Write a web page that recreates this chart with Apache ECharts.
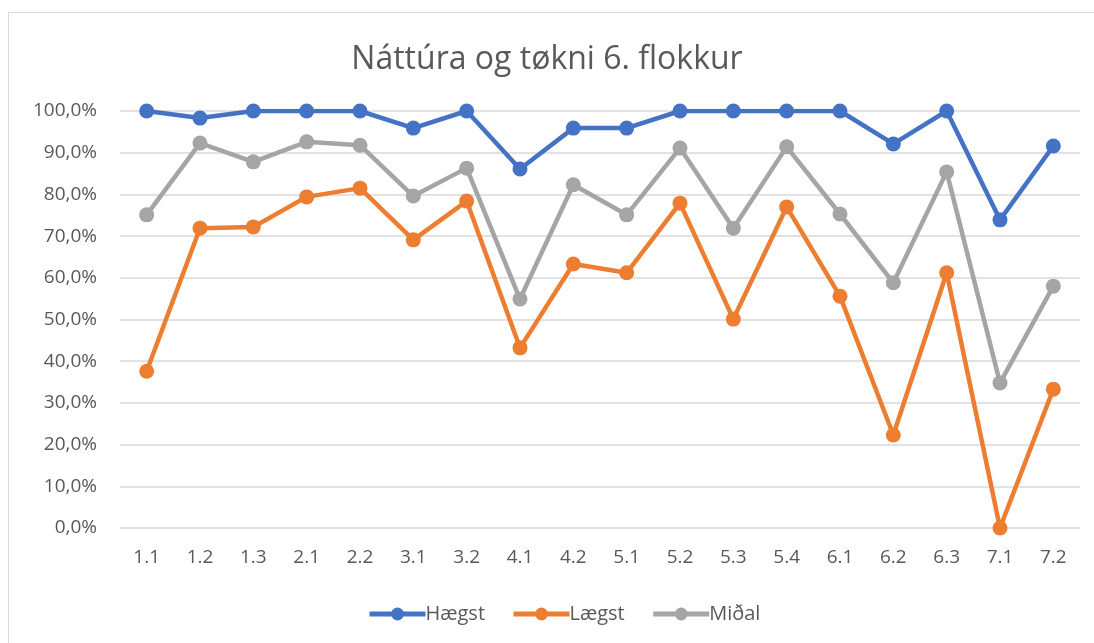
<!DOCTYPE html>
<html lang="fo">
<head>
<meta charset="UTF-8">
<title>Náttúra og tøkni 6. flokkur</title>
<style>
  html, body { margin: 0; padding: 0; width: 100%; height: 100%; background: #fff; }
  #frame { position: absolute; left: 8px; top: 12px; width: 1100px; height: 650px; border: 1px solid #d9d9d9; }
  #main { position: absolute; left: 0; top: 0; width: 1094px; height: 643px; }
</style>
</head>
<body>
<div id="frame"></div>
<div id="main"></div>
<script src="https://cdn.jsdelivr.net/npm/echarts@6/dist/echarts.min.js"></script>
<script>
  // flokkar (x-ásur)
  const categories = ['1.1', '1.2', '1.3', '2.1', '2.2', '3.1', '3.2', '4.1', '4.2', '5.1', '5.2', '5.3', '5.4', '6.1', '6.2', '6.3', '7.1', '7.2'];
  // virði í prosentum
  const haegst = [100, 98.3, 100, 100, 100, 95.9, 100, 86.1, 95.9, 95.9, 100, 100, 100, 100, 92.1, 100, 73.9, 91.6];
  const laegst = [37.6, 71.9, 72.2, 79.4, 81.5, 69.1, 78.4, 43.2, 63.3, 61.2, 77.9, 50.1, 77.0, 55.6, 22.3, 61.2, 0, 33.3];
  const midal = [75.1, 92.3, 87.8, 92.6, 91.8, 79.6, 86.3, 54.9, 82.3, 75.1, 91.1, 71.9, 91.4, 75.3, 58.8, 85.4, 34.8, 58.0];

  const font = '"Open Sans", "Noto Sans", sans-serif';
  const txt = '#595959';

  function mkSeries(name, data, color) {
    return {
      name: name,
      type: 'line',
      data: data,
      symbol: 'circle',
      symbolSize: 15,
      lineStyle: { width: 4.5, color: color },
      itemStyle: { color: color },
      emphasis: { disabled: true }
    };
  }

  var chart = echarts.init(document.getElementById('main'));
  chart.setOption({
    animation: false,
    color: ['#4472C4', '#ED7D31', '#A5A5A5'],
    title: {
      text: 'Náttúra og tøkni 6. flokkur',
      left: 'center',
      top: 39,
      textStyle: { fontFamily: font, fontSize: 32, fontWeight: 'normal', color: txt }
    },
    legend: {
      bottom: 14,
      left: 362,
      itemWidth: 56,
      itemHeight: 16,
      itemGap: 26,
      lineStyle: { width: 5 },
      textStyle: { fontFamily: font, fontSize: 20, color: txt, padding: [0, 0, 0, -5] },
      data: ['Hægst', 'Lægst', 'Miðal']
    },
    grid: { left: 120, right: 14, top: 111, bottom: 115, containLabel: false },
    xAxis: {
      type: 'category',
      data: categories,
      axisLine: { show: false },
      axisTick: { show: false },
      axisLabel: { fontFamily: font, fontSize: 19, color: txt, margin: 20 }
    },
    yAxis: {
      type: 'value',
      min: 0,
      max: 100,
      interval: 10,
      axisLine: { show: false },
      axisTick: { show: false },
      splitLine: { lineStyle: { color: '#d9d9d9', width: 1.5 } },
      axisLabel: {
        fontFamily: font, fontSize: 19, color: txt, margin: 23,
        formatter: v => v.toFixed(1).replace('.', ',') + '%'
      }
    },
    series: [
      mkSeries('Hægst', haegst, '#4472C4'),
      mkSeries('Lægst', laegst, '#ED7D31'),
      mkSeries('Miðal', midal, '#A5A5A5')
    ]
  });

  window.onresize = function () { chart.resize(); };
</script>
</body>
</html>
